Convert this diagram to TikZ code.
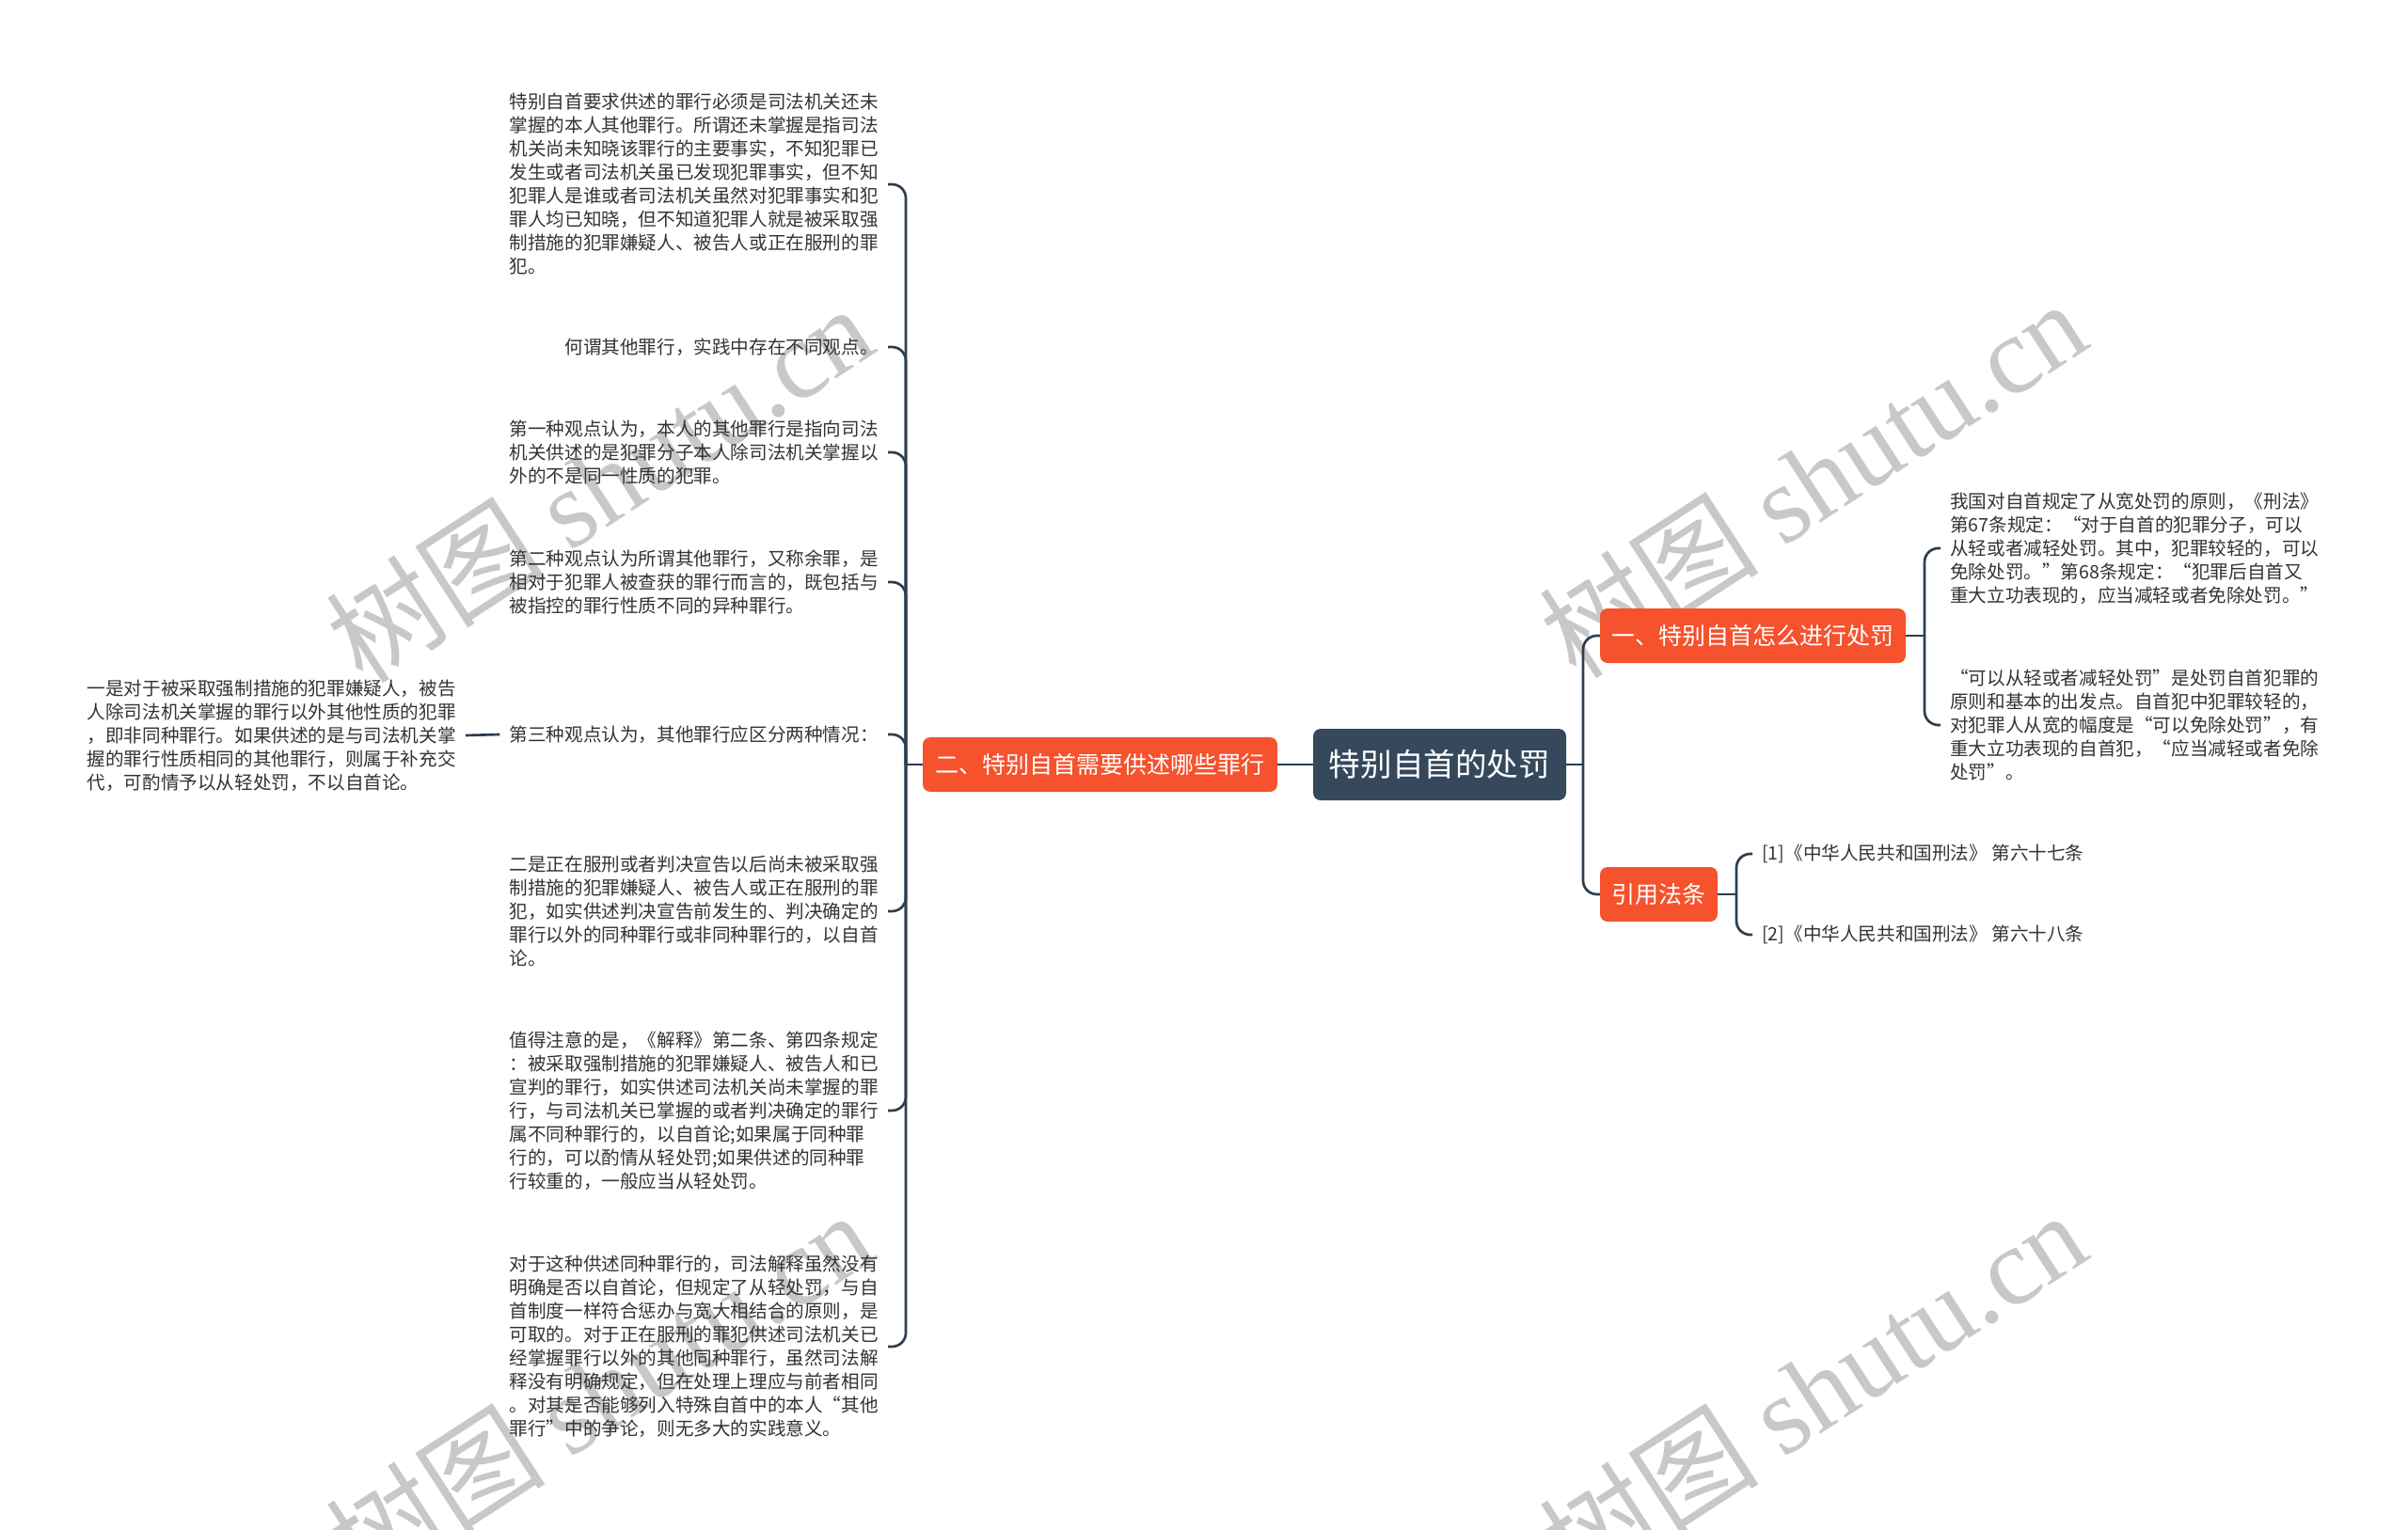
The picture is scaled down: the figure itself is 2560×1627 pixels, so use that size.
\documentclass[tikz,border=0pt]{standalone}
\usepackage{fontspec}
\setmainfont{Noto Sans CJK SC}
\newfontfamily\wmserif{Liberation Serif}
\newfontfamily\wmcjk{Noto Sans CJK SC}
\definecolor{linec}{RGB}{44,62,80}
\definecolor{rootc}{RGB}{53,72,92}
\definecolor{orangec}{RGB}{245,82,45}
\definecolor{leafc}{RGB}{51,51,51}
\definecolor{wmc}{RGB}{200,200,200}
\begin{document}
\begin{tikzpicture}[x=0.75pt,y=-0.75pt,
  conn/.style={draw=linec, line width=2pt, rounded corners=11pt},
  leafnode/.style={inner xsep=7.5pt, inner ysep=0pt, align=left, text=leafc,
    font=\fontsize{14.7pt}{18.75pt}\selectfont},
  branchnode/.style={fill=orangec, text=white, rounded corners=6pt, inner sep=0pt,
    minimum height=43.5pt, font=\fontsize{18.75pt}{22pt}\selectfont},
  rootnode/.style={fill=rootc, text=white, rounded corners=6pt, inner sep=0pt,
    minimum width=201.75pt, minimum height=57pt, font=\fontsize{25.2pt}{30pt}\selectfont},
  wmark/.style={text=wmc, rotate=33, font=\fontsize{88pt}{100pt}\selectfont}
]
\useasboundingbox (0,0) rectangle (2560,1627);
\fill[white] (0,0) rectangle (2560,1627);

% watermarks
\node[wmark] (wm1) at (637,514) {{\wmcjk 树图} {\wmserif shutu.cn}};
\node[wmark] (wm2) at (1927,509) {{\wmcjk 树图} {\wmserif shutu.cn}};
\node[wmark] (wm3) at (637,1478) {{\wmcjk 树图} {\wmserif shutu.cn}};
\node[wmark] (wm4) at (1927,1478) {{\wmcjk 树图} {\wmserif shutu.cn}};

% root and branches
\node[rootnode] (root) at (1530.5,813) {特别自首的处罚};
\node[branchnode, minimum width=282.75pt] (b2) at (1169.5,813) {二、特别自首需要供述哪些罪行};
\node[branchnode, minimum width=243.75pt] (b1) at (1863.5,676) {一、特别自首怎么进行处罚};
\node[branchnode, minimum width=93.75pt] (b3) at (1763.5,951) {引用法条};

\coordinate (tl) at (963,813);
\coordinate (tr) at (1683,813);
\coordinate (t1) at (2046,676);
\coordinate (t3) at (1846,951);

% left leaves
\node[leafnode, anchor=east] (la) at (944,196) {特别自首要求供述的罪行必须是司法机关还未\\掌握的本人其他罪行。所谓还未掌握是指司法\\机关尚未知晓该罪行的主要事实，不知犯罪已\\发生或者司法机关虽已发现犯罪事实，但不知\\犯罪人是谁或者司法机关虽然对犯罪事实和犯\\罪人均已知晓，但不知道犯罪人就是被采取强\\制措施的犯罪嫌疑人、被告人或正在服刑的罪\\犯。};
\node[leafnode, anchor=east] (lb) at (944,369) {何谓其他罪行，实践中存在不同观点。};
\node[leafnode, anchor=east] (lc) at (944,481) {第一种观点认为，本人的其他罪行是指向司法\\机关供述的是犯罪分子本人除司法机关掌握以\\外的不是同一性质的犯罪。};
\node[leafnode, anchor=east] (ld) at (944,619) {第二种观点认为所谓其他罪行，又称余罪，是\\相对于犯罪人被查获的罪行而言的，既包括与\\被指控的罪行性质不同的异种罪行。};
\node[leafnode, anchor=east] (le) at (944,781) {第三种观点认为，其他罪行应区分两种情况：};
\node[leafnode, anchor=east] (lf) at (495,782) {一是对于被采取强制措施的犯罪嫌疑人，被告\\人除司法机关掌握的罪行以外其他性质的犯罪\\，即非同种罪行。如果供述的是与司法机关掌\\握的罪行性质相同的其他罪行，则属于补充交\\代，可酌情予以从轻处罚，不以自首论。};
\node[leafnode, anchor=east] (lg) at (944,969) {二是正在服刑或者判决宣告以后尚未被采取强\\制措施的犯罪嫌疑人、被告人或正在服刑的罪\\犯，如实供述判决宣告前发生的、判决确定的\\罪行以外的同种罪行或非同种罪行的，以自首\\论。};
\node[leafnode, anchor=east] (lh) at (944,1181) {值得注意的是，《解释》第二条、第四条规定\\：被采取强制措施的犯罪嫌疑人、被告人和已\\宣判的罪行，如实供述司法机关尚未掌握的罪\\行，与司法机关已掌握的或者判决确定的罪行\\属不同种罪行的，以自首论;如果属于同种罪\\行的，可以酌情从轻处罚;如果供述的同种罪\\行较重的，一般应当从轻处罚。};
\node[leafnode, anchor=east] (li) at (944,1432) {对于这种供述同种罪行的，司法解释虽然没有\\明确是否以自首论，但规定了从轻处罚，与自\\首制度一样符合惩办与宽大相结合的原则，是\\可取的。对于正在服刑的罪犯供述司法机关已\\经掌握罪行以外的其他同种罪行，虽然司法解\\释没有明确规定，但在处理上理应与前者相同\\。对其是否能够列入特殊自首中的本人“其他\\罪行”中的争论，则无多大的实践意义。};

% right leaves
\node[leafnode, anchor=west] (r1) at (2063,583) {我国对自首规定了从宽处罚的原则，《刑法》\\第67条规定：“对于自首的犯罪分子，可以\\从轻或者减轻处罚。其中，犯罪较轻的，可以\\免除处罚。”第68条规定：“犯罪后自首又\\重大立功表现的，应当减轻或者免除处罚。”};
\node[leafnode, anchor=west] (r2) at (2063,771) {“可以从轻或者减轻处罚”是处罚自首犯罪的\\原则和基本的出发点。自首犯中犯罪较轻的，\\对犯罪人从宽的幅度是“可以免除处罚”，有\\重大立功表现的自首犯，“应当减轻或者免除\\处罚”。};
\node[leafnode, anchor=west] (r3) at (1863,908) {[1]《中华人民共和国刑法》 第六十七条};
\node[leafnode, anchor=west] (r4) at (1863,994) {[2]《中华人民共和国刑法》 第六十八条};

% connectors
\draw[conn] (root.west) -- (b2.east);
\draw[conn] (b2.west) -- (tl);
\foreach \n in {la,lb,lc,ld,le,lg,lh,li} {\draw[conn] (tl) |- (\n.east);}
\draw[conn] (le.west) -- (lf.east);
\draw[conn] (root.east) -- (tr);
\draw[conn] (tr) |- (b1.west);
\draw[conn] (tr) |- (b3.west);
\draw[conn] (b1.east) -- (t1);
\draw[conn] (t1) |- (r1.west);
\draw[conn] (t1) |- (r2.west);
\draw[conn] (b3.east) -- (t3);
\draw[conn] (t3) |- (r3.west);
\draw[conn] (t3) |- (r4.west);
\end{tikzpicture}
\end{document}
